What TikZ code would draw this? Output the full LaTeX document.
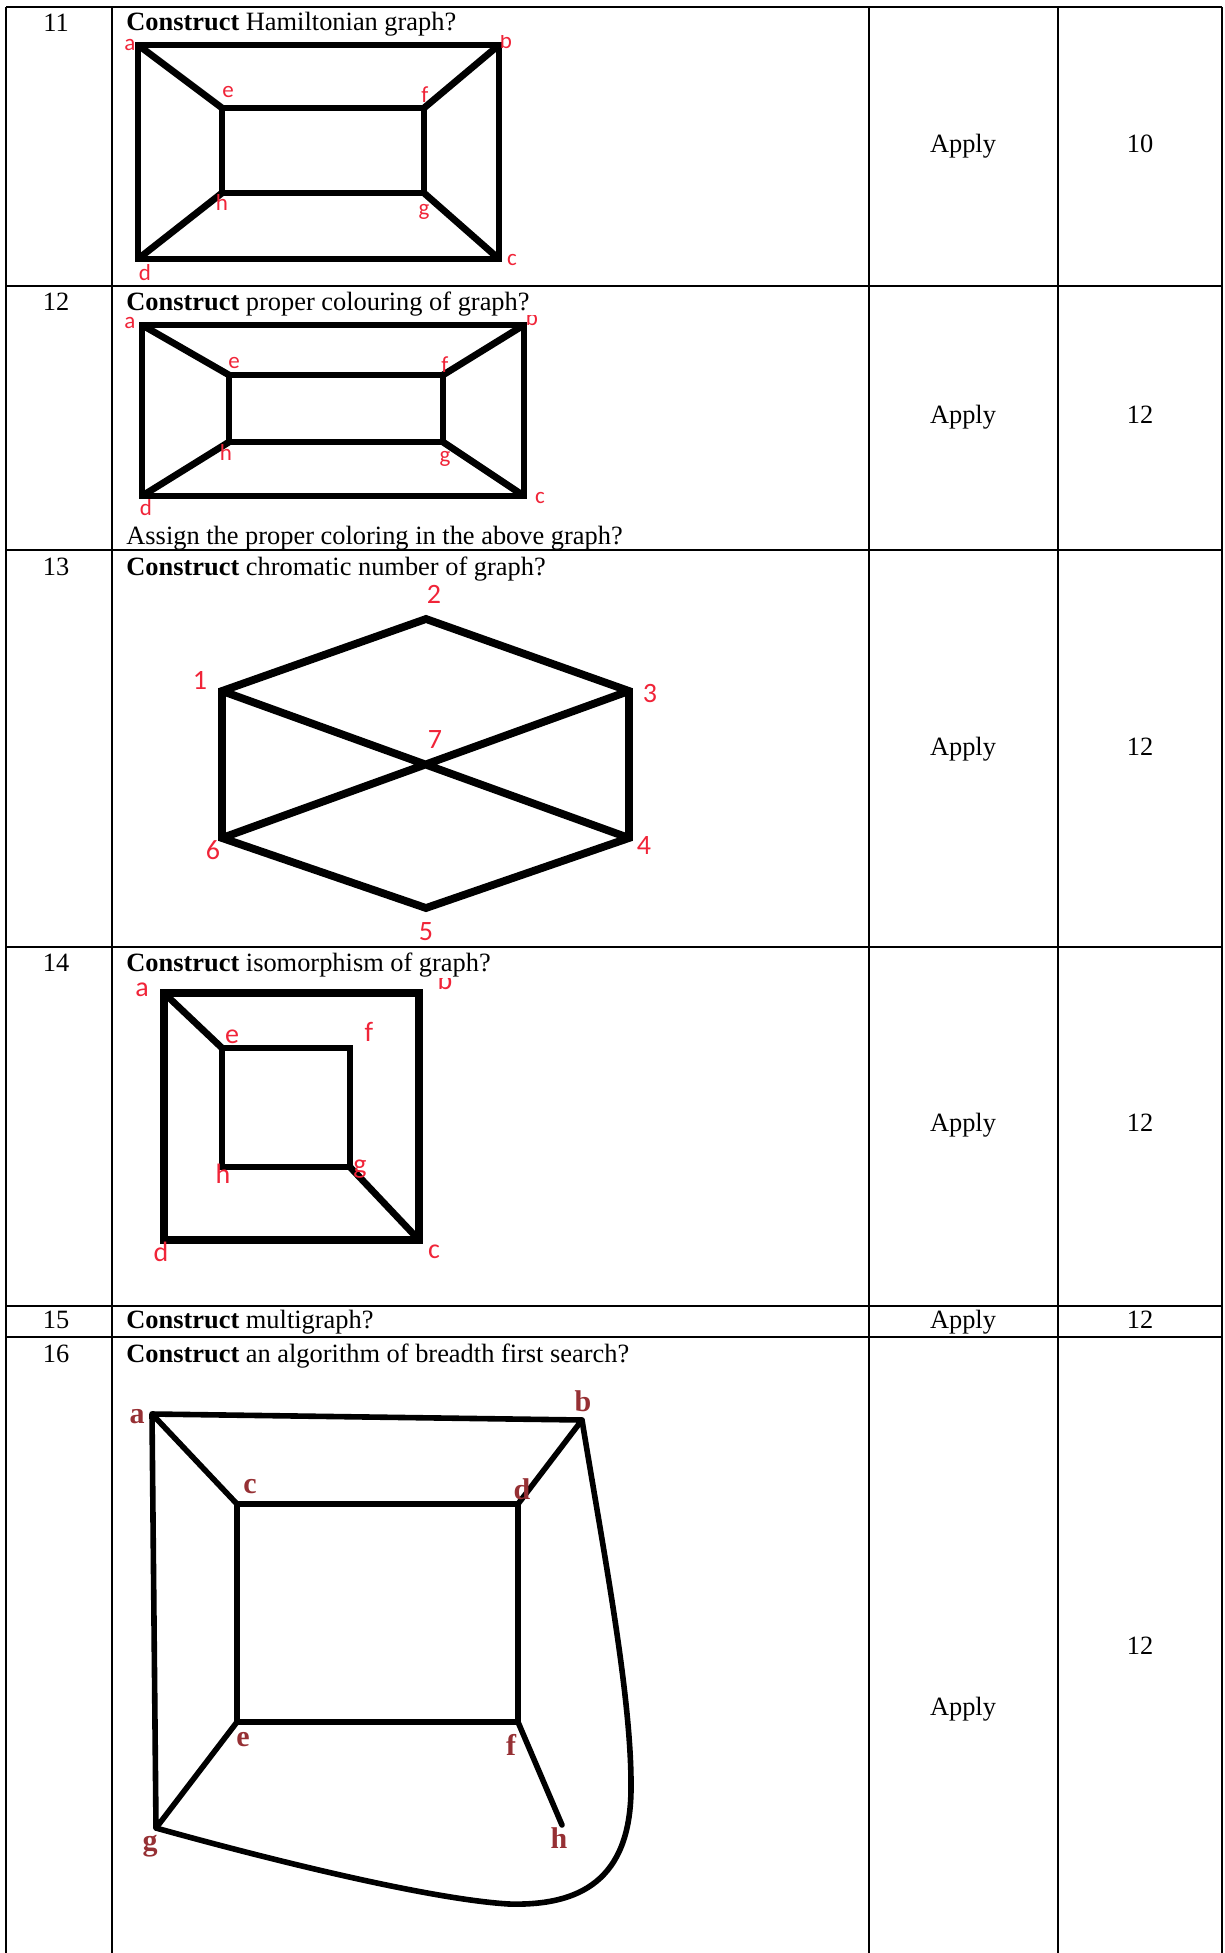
\documentclass[tikz,border=0pt]{standalone}
\usepackage{fontspec}
\setmainfont{Liberation Serif}
\newfontfamily\paintfont{Carlito}
\definecolor{paintred}{RGB}{240,36,56}
\definecolor{scanred}{RGB}{150,48,52}
\begin{document}
\begin{tikzpicture}[x=0.5pt, y=-0.5pt, line join=miter,
  grid/.style={line width=0.9pt},
  qtext/.style={anchor=base west, inner sep=0pt, font=\fontsize{13.2}{15}\selectfont},
  ctext/.style={anchor=base, inner sep=0pt, font=\fontsize{13.2}{15}\selectfont},
  vlbl/.style={inner sep=0pt, text=paintred, font=\paintfont\fontsize{11.5}{13}\selectfont},
  nlbl/.style={inner sep=0pt, text=paintred, font=\paintfont\fontsize{14}{16}\selectfont},
  slbl/.style={inner sep=0pt, text=scanred, font=\bfseries\fontsize{15}{17}\selectfont},
  gouter/.style={line width=3.4pt},
  ginner/.style={line width=2.8pt},
  gbold/.style={line width=4.2pt},
  ghex/.style={line width=3.9pt},
  gscan/.style={line width=2.8pt, line cap=round, line join=round}]
\useasboundingbox (0,0) rectangle (1225,1953);

\foreach \y in {7,286,550,947,1306,1337}
  \draw[grid] (6,\y) -- (1222,\y);
\foreach \x in {6,112,869,1058,1222}
  \draw[grid] (\x,7) -- (\x,1953);

\node[ctext] (n11) at (56,32) {11};
\node[qtext] (q11) at (126,31) {\textbf{Construct} Hamiltonian graph?};
\node[ctext] (ap11) at (963,153) {Apply};
\node[ctext] (mk11) at (1140,153) {10};

\node[ctext] (n12) at (56,310) {12};
\node[qtext] (q12) at (126,310) {\textbf{Construct} proper colouring of graph?};
\node[qtext] (as12) at (126,544) {Assign the proper coloring in the above graph?};
\node[ctext] (ap12) at (963,423) {Apply};
\node[ctext] (mk12) at (1140,423) {12};

\node[ctext] (n13) at (56,575) {13};
\node[qtext] (q13) at (126,575) {\textbf{Construct} chromatic number of graph?};
\node[ctext] (ap13) at (963,755) {Apply};
\node[ctext] (mk13) at (1140,755) {12};

\node[ctext] (n14) at (56,971) {14};
\node[qtext] (q14) at (126,971) {\textbf{Construct} isomorphism of graph?};
\node[ctext] (ap14) at (963,1131) {Apply};
\node[ctext] (mk14) at (1140,1131) {12};

\node[ctext] (n15) at (56,1328) {15};
\node[qtext] (q15) at (126,1328) {\textbf{Construct} multigraph?};
\node[ctext] (ap15) at (963,1328) {Apply};
\node[ctext] (mk15) at (1140,1328) {12};

\node[ctext] (n16) at (56,1362) {16};
\node[qtext] (q16) at (126,1362) {\textbf{Construct} an algorithm of breadth first search?};
\node[ctext] (ap16) at (963,1715) {Apply};
\node[ctext] (mk16) at (1140,1654) {12};

% Hamiltonian graph
\begin{scope}
  \clip (120,36) rectangle (560,285);
  \coordinate (a11) at (138,45);
  \coordinate (b11) at (499,45);
  \coordinate (c11) at (499,259);
  \coordinate (d11) at (138,259);
  \coordinate (e11) at (222,108);
  \coordinate (f11) at (424,108);
  \coordinate (g11) at (424,193);
  \coordinate (h11) at (222,193);
  \draw[gouter] (a11) -- (b11) -- (c11) -- (d11) -- cycle;
  \draw[ginner] (e11) -- (f11) -- (g11) -- (h11) -- cycle;
  \draw[gouter] (a11) -- (e11) (b11) -- (f11) (c11) -- (g11) (d11) -- (h11);
  \node[vlbl] (la11) at (130,45) {a};
  \node[vlbl] (lb11) at (506,41) {b};
  \node[vlbl] (lc11) at (512,260) {c};
  \node[vlbl] (ld11) at (145,273) {d};
  \node[vlbl] (le11) at (228,92) {e};
  \node[vlbl] (lf11) at (425,95) {f};
  \node[vlbl] (lg11) at (424,212) {g};
  \node[vlbl] (lh11) at (222,203) {h};
\end{scope}

% colouring graph
\begin{scope}
  \clip (120,315) rectangle (560,520);
  \coordinate (a12) at (142,325);
  \coordinate (b12) at (524,325);
  \coordinate (c12) at (524,496);
  \coordinate (d12) at (142,496);
  \coordinate (e12) at (229,375);
  \coordinate (f12) at (443,375);
  \coordinate (g12) at (443,442);
  \coordinate (h12) at (229,442);
  \draw[gouter] (a12) -- (b12) -- (c12) -- (d12) -- cycle;
  \draw[ginner] (e12) -- (f12) -- (g12) -- (h12) -- cycle;
  \draw[gouter] (a12) -- (e12) (b12) -- (f12) (c12) -- (g12) (d12) -- (h12);
  \node[vlbl] (la12) at (130,323) {a};
  \node[vlbl] (lb12) at (532,318) {b};
  \node[vlbl] (lc12) at (540,498) {c};
  \node[vlbl] (ld12) at (146,508) {d};
  \node[vlbl] (le12) at (234,363) {e};
  \node[vlbl] (lf12) at (445,365) {f};
  \node[vlbl] (lg12) at (445,459) {g};
  \node[vlbl] (lh12) at (226,453) {h};
\end{scope}

% chromatic number graph
\coordinate (v1) at (222,691);
\coordinate (v2) at (426,619);
\coordinate (v3) at (629,691);
\coordinate (v4) at (629,838);
\coordinate (v5) at (426,908);
\coordinate (v6) at (222,838);
\draw[ghex] (v1) -- (v2) -- (v3) -- (v4) -- (v5) -- (v6) -- cycle;
\draw[ghex] (v1) -- (v4) (v3) -- (v6);
\node[nlbl] (l1) at (200,680) {1};
\node[nlbl] (l2) at (434,594) {2};
\node[nlbl] (l3) at (650,694) {3};
\node[nlbl] (l4) at (644,846) {4};
\node[nlbl] (l5) at (426,932) {5};
\node[nlbl] (l6) at (213,850) {6};
\node[nlbl] (l7) at (435,740) {7};

% isomorphism graph
\begin{scope}
  \clip (120,978) rectangle (480,1290);
  \coordinate (a14) at (164,993);
  \coordinate (b14) at (419,993);
  \coordinate (c14) at (419,1240);
  \coordinate (d14) at (164,1240);
  \coordinate (e14) at (222,1048);
  \coordinate (f14) at (350,1048);
  \coordinate (g14) at (350,1167);
  \coordinate (h14) at (222,1167);
  \draw[gbold] (a14) -- (b14) -- (c14) -- (d14) -- cycle;
  \draw[gouter] (e14) -- (f14) -- (g14) -- (h14) -- cycle;
  \draw[gouter] (a14) -- (e14) (g14) -- (c14);
  \node[nlbl] (la14) at (142,990) {a};
  \node[nlbl] (lb14) at (445,980) {b};
  \node[nlbl] (lc14) at (434,1252) {c};
  \node[nlbl] (ld14) at (161,1252) {d};
  \node[nlbl] (le14) at (232,1037) {e};
  \node[nlbl] (lf14) at (369,1032) {f};
  \node[nlbl] (lg14) at (360,1169) {g};
  \node[nlbl] (lh14) at (223,1174) {h};
\end{scope}

% breadth first search graph
\coordinate (a16) at (152,1414);
\coordinate (b16) at (582,1420);
\coordinate (c16) at (237,1504);
\coordinate (d16) at (518,1504);
\coordinate (e16) at (237,1722);
\coordinate (f16) at (518,1722);
\coordinate (g16) at (156,1828);
\coordinate (h16) at (562,1825);
\draw[gscan] (a16) -- (b16) -- (d16) -- (f16) -- (e16) -- (c16) -- (a16) -- (g16) -- (e16);
\draw[gscan] (c16) -- (d16) (f16) -- (h16);
\draw[gscan] (b16) .. controls (605,1560) and (632,1700) .. (631,1790)
  .. controls (630,1880) and (580,1906) .. (509,1904)
  .. controls (440,1900) and (300,1868) .. (g16);
\node[slbl] (la16) at (137,1417) {a};
\node[slbl] (lb16) at (583,1401) {b};
\node[slbl] (lc16) at (250,1487) {c};
\node[slbl] (ld16) at (522,1489) {d};
\node[slbl] (le16) at (243,1740) {e};
\node[slbl] (lf16) at (511,1745) {f};
\node[slbl] (lg16) at (150,1846) {g};
\node[slbl] (lh16) at (559,1838) {h};
\end{tikzpicture}
\end{document}
